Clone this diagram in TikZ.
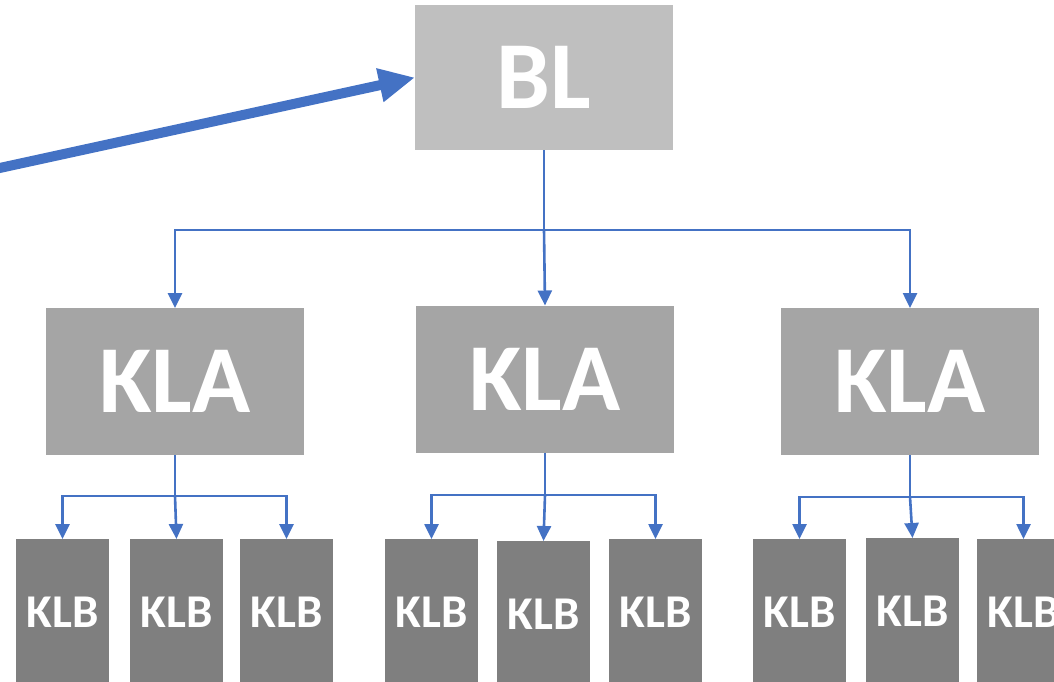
\documentclass[tikz,border=0pt]{standalone}
\usepackage{fontspec}
\setmainfont{Carlito}
\usetikzlibrary{arrows.meta}
\definecolor{blgray}{HTML}{BFBFBF}
\definecolor{klagray}{HTML}{A5A5A5}
\definecolor{klbgray}{HTML}{7F7F7F}
\definecolor{conblue}{HTML}{4472C4}
\begin{document}
\begin{tikzpicture}[x=1pt,y=-1pt,
  box/.style={inner sep=0pt, outer sep=0pt, text=white},
  blbox/.style={box, fill=blgray, minimum width=258pt, minimum height=145pt, font=\fontsize{96}{96}\selectfont\bfseries},
  klabox/.style={box, fill=klagray, minimum width=258pt, minimum height=147pt, font=\fontsize{96}{96}\selectfont\bfseries},
  klbbox/.style={box, fill=klbgray, minimum width=93pt, minimum height=146pt, font=\fontsize{47}{47}\selectfont\bfseries},
  conn/.style={draw=conblue, line width=2.6pt, -{Triangle[length=15pt,width=14pt]}},
  bigarrow/.style={draw=conblue, line width=10pt, -{Triangle[length=36pt,width=32pt]}}
]
\useasboundingbox (0,0) rectangle (1054,682);

\node[blbox] (bl) at (544,77.5) {BL};

\node[klabox] (kla1) at (175,381.5) {KLA};
\node[klabox] (kla2) at (545,379) {KLA};
\node[klabox] (kla3) at (910,381.5) {KLA};

\node[klbbox] (klb11) at (62.5,612) {KLB};
\node[klbbox] (klb12) at (176.5,612) {KLB};
\node[klbbox] (klb13) at (286.5,612) {KLB};

\node[klbbox] (klb21) at (431.5,612) {KLB};
\node[klbbox] (klb22) at (543.5,614) {KLB};
\node[klbbox] (klb23) at (655.5,612) {KLB};

\node[klbbox] (klb31) at (799.5,612) {KLB};
\node[klbbox] (klb32) at (912.5,611) {KLB};
\node[klbbox] (klb33) at (1023.5,612) {KLB};

\coordinate (bus0) at (544,230);
\coordinate (bus1) at (175,496);
\coordinate (bus2) at (545,495);
\coordinate (bus3) at (910,497);

\draw[conn] (bl.south) -- (bus0) -| (kla1.north);
\draw[conn] (bus0) -- (kla2.north);
\draw[conn] (bus0) -| (kla3.north);

\draw[conn] (kla1.south) -- (bus1) -| (klb11.north);
\draw[conn] (bus1) -- (klb12.north);
\draw[conn] (bus1) -| (klb13.north);

\draw[conn] (kla2.south) -- (bus2) -| (klb21.north);
\draw[conn] (bus2) -- (klb22.north);
\draw[conn] (bus2) -| (klb23.north);

\draw[conn] (kla3.south) -- (bus3) -| (klb31.north);
\draw[conn] (bus3) -- (klb32.north);
\draw[conn] (bus3) -| (klb33.north);

\coordinate (arrowstart) at (-20,172.3);
\draw[bigarrow] (arrowstart) -- (bl.west);
\end{tikzpicture}
\end{document}
